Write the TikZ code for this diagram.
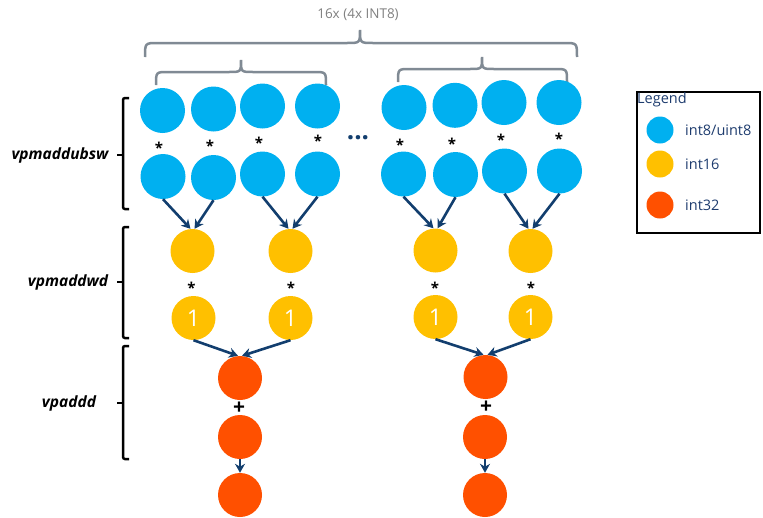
\documentclass[tikz,border=0pt]{standalone}
\usepackage{fontspec}
\setmainfont{Open Sans}
\usetikzlibrary{arrows.meta}
\definecolor{cblue}{RGB}{0,176,240}
\definecolor{cyel}{RGB}{255,192,0}
\definecolor{cred}{RGB}{255,80,0}
\definecolor{navy}{RGB}{18,62,110}
\definecolor{bgray}{RGB}{128,138,148}
\definecolor{tgray}{RGB}{128,128,128}
\definecolor{legtxt}{RGB}{30,60,110}
\begin{document}
\begin{tikzpicture}[x=1pt,y=-1pt,
  dot/.style={circle,inner sep=0pt,minimum size=45pt},
  bdot/.style={dot,fill=cblue},
  ydot/.style={dot,fill=cyel,minimum size=44pt,text=white,font=\fontsize{23}{25}\selectfont},
  rdot/.style={dot,fill=cred,minimum size=44pt},
  ldot/.style={circle,inner sep=0pt,minimum size=27pt},
  arr/.style={draw=navy,line width=2.6pt,-{Stealth[length=9pt,width=10pt]}},
  op/.style={inner sep=0pt,font=\bfseries\fontsize{15}{15}\selectfont},
  plus/.style={inner sep=0pt,font=\bfseries\fontsize{21}{21}\selectfont},
  brk/.style={line width=2.5pt,rounded corners=2pt},
  brc/.style={draw=bgray,line width=2.5pt},
  lab/.style={inner sep=0pt,font=\bfseries\itshape\fontsize{15.5}{17}\selectfont},
  legt/.style={anchor=west,inner sep=0pt,text=legtxt,font=\fontsize{14.5}{16}\selectfont}
]
\useasboundingbox (0,0) rectangle (763,517);

% top braces and caption
\node[text=tgray,font=\fontsize{13.5}{15}\selectfont] (cap) at (358,15) {16x (4x INT8)};
\draw[brc] (145,57) .. controls (145,43) .. (158,43) -- (347,43) .. controls (360,43) .. (360,30)
  .. controls (360,43) .. (373,43) -- (564,43) .. controls (577,43) .. (577,57);
\draw[brc] (156,85) .. controls (156,72) .. (168,72) -- (229,72) .. controls (241,72) .. (241,60)
  .. controls (241,72) .. (253,72) -- (314,72) .. controls (326,72) .. (326,85);
\draw[brc] (398,82) .. controls (398,69) .. (410,69) -- (470,69) .. controls (482,69) .. (482,57)
  .. controls (482,69) .. (494,69) -- (555,69) .. controls (567,69) .. (567,82);

% left brackets and labels
\draw[brk] (129,98) -- (123,98) -- (123,209) -- (129,209);
\draw[brk] (123,155) -- (117,155);
\draw[brk] (129,227) -- (123,227) -- (123,338) -- (129,338);
\draw[brk] (123,282) -- (117,282);
\draw[brk] (129,346) -- (123,346) -- (123,459) -- (129,459);
\draw[brk] (123,403) -- (117,403);
\node[lab] (l1) at (60,155) {vpmaddubsw};
\node[lab] (l2) at (68,282) {vpmaddwd};
\node[lab] (l3) at (69,403) {vpaddd};

% blue rows
\node[bdot] (b1) at (162.5,110.5) {};
\node[bdot] (b2) at (213.5,109) {};
\node[bdot] (b3) at (262.5,106) {};
\node[bdot] (b4) at (317.5,106) {};
\node[bdot] (b5) at (404,107.5) {};
\node[bdot] (b6) at (455,105.3) {};
\node[bdot] (b7) at (504,102.5) {};
\node[bdot] (b8) at (559,102.5) {};
\node[bdot] (c1) at (163,176.5) {};
\node[bdot] (c2) at (213.5,177.5) {};
\node[bdot] (c3) at (262.5,174) {};
\node[bdot] (c4) at (317.5,174) {};
\node[bdot] (c5) at (403.5,174) {};
\node[bdot] (c6) at (455.5,174.5) {};
\node[bdot] (c7) at (504.5,171) {};
\node[bdot] (c8) at (559.5,171) {};
\node[op] (m1) at (159,148) {*};
\node[op] (m2) at (210,146) {*};
\node[op] (m3) at (259,143) {*};
\node[op] (m4) at (318,141) {*};
\node[op] (m5) at (400,145) {*};
\node[op] (m6) at (452,144) {*};
\node[op] (m7) at (501,140) {*};
\node[op] (m8) at (559,139) {*};
\node[text=navy,inner sep=0pt,anchor=base,font=\bfseries\fontsize{26}{26}\selectfont] (ell) at (358,139) {...};

% yellow rows
\node[ydot] (y1) at (192.5,251) {};
\node[ydot] (y2) at (290.5,251) {};
\node[ydot] (y3) at (435.5,250.5) {};
\node[ydot] (y4) at (530.5,251) {};
\node[op] (n1) at (191.5,288) {*};
\node[op] (n2) at (291,288) {*};
\node[op] (n3) at (435,288) {*};
\node[op] (n4) at (531,288) {*};
\node[ydot] (o1) at (193.5,318) {1};
\node[ydot] (o2) at (290.5,318) {1};
\node[ydot] (o3) at (435.5,317) {1};
\node[ydot] (o4) at (530.5,317) {1};

% red
\node[rdot] (r1) at (240,378) {};
\node[rdot] (r2) at (240,437) {};
\node[rdot] (r3) at (240,495) {};
\node[rdot] (s1) at (485.5,377) {};
\node[rdot] (s2) at (485,437) {};
\node[rdot] (s3) at (485,495) {};
\node[plus] (p1) at (239,408) {+};
\node[plus] (p2) at (486,407) {+};

% arrows
\draw[arr] (c1.south) -- ([xshift=-2pt]y1.north);
\draw[arr] (c2.south) -- ([xshift=2pt]y1.north);
\draw[arr] (c3.south) -- ([xshift=-2pt]y2.north);
\draw[arr] (c4.south) -- ([xshift=2pt]y2.north);
\draw[arr] (c5.south) -- ([xshift=-2pt]y3.north);
\draw[arr] (c6.south) -- ([xshift=2pt]y3.north);
\draw[arr] (c7.south) -- ([xshift=-2pt]y4.north);
\draw[arr] (c8.south) -- ([xshift=2pt]y4.north);
\draw[arr] (o1.south) -- ([xshift=-2pt]r1.north);
\draw[arr] (o2.south) -- ([xshift=2pt]r1.north);
\draw[arr] (o3.south) -- ([xshift=-2pt]s1.north);
\draw[arr] (o4.south) -- ([xshift=2pt]s1.north);
\draw[arr] (r2.south) -- (r3.north);
\draw[arr] (s2.south) -- (s3.north);

% legend
\draw[line width=1.2pt] (637,92) rectangle (760,233);
\node[legt] (lgt) at (637,100) {Legend};
\node[ldot,fill=cblue] (g1) at (660,130) {};
\node[ldot,fill=cyel] (g2) at (660,164) {};
\node[ldot,fill=cred] (g3) at (660,205) {};
\node[legt] (t1) at (685,130) {int8/uint8};
\node[legt] (t2) at (685,164) {int16};
\node[legt] (t3) at (685,205) {int32};
\end{tikzpicture}
\end{document}
